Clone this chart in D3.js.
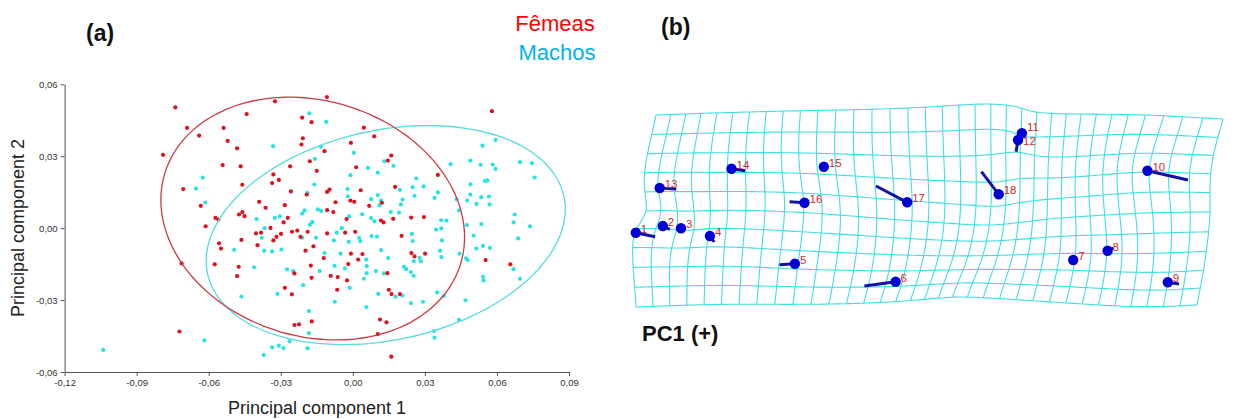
<!DOCTYPE html>
<html>
<head>
<meta charset="utf-8">
<script src="https://cdn.jsdelivr.net/npm/d3@7"></script>
<style>
  body { margin: 0; background: #fff; }
  svg { display: block; }
  text { font-family: "Liberation Sans", Arial, sans-serif; }
</style>
</head>
<body>
<div id="chart-area"></div>
<script>
// ---- (a) PCA scores: [PC1, PC2] ----
const femaleScores = [
  [-0.0739,0.0504],[-0.0324,0.0529],[-0.0108,0.0547],[-0.0442,0.0476],[-0.0690,0.0418],[-0.0640,0.0386],
  [-0.0538,0.0418],[-0.0521,0.0364],[-0.0482,0.0333],[-0.0790,0.0306],[-0.0211,0.0461],[-0.0172,0.0442],
  [-0.0208,0.0375],[-0.0214,0.0349],[-0.0118,0.0321],[-0.0179,0.0279],[-0.0261,0.0258],[-0.0150,0.0239],
  [-0.0542,0.0263],[-0.0467,0.0258],[-0.0331,0.0224],[-0.0308,0.0201],[-0.0336,0.0188],[-0.0460,0.0181],
  [-0.0706,0.0163],[-0.0258,0.0153],[-0.0192,0.0140],[-0.0390,0.0110],[-0.0363,0.0085],[-0.0283,0.0096],
  [-0.0633,0.0093],[-0.0572,0.0043],[-0.0560,0.0036],[-0.0474,0.0057],[-0.0460,0.0067],[-0.0451,0.0050],
  [-0.0271,0.0043],[-0.0288,0.0024],[-0.0613,0.0008],[-0.0107,0.0075],[-0.0343,0.0001],
  [0.0579,0.0488],[0.0046,0.0419],[0.0089,0.0383],[-0.0008,0.0356],[0.0160,0.0303],[0.0146,0.0282],
  [0.0014,0.0254],[0.0354,0.0222],[0.0176,0.0172],[-0.0097,0.0161],[-0.0107,0.0151],[0.0033,0.0158],
  [-0.0072,0.0108],[-0.0010,0.0115],[0.0006,0.0110],[0.0068,0.0093],[-0.0081,0.0067],[-0.0026,0.0038],
  [0.0121,0.0106],[0.0117,0.0032],[0.0128,0.0024],[0.0168,0.0039],[0.0243,0.0044],[0.0296,0.0046],
  [-0.0557,-0.0063],[-0.0549,-0.0085],[-0.0464,-0.0049],[-0.0403,-0.0022],[-0.0382,-0.0019],[-0.0318,-0.0036],
  [-0.0299,-0.0024],[-0.0331,-0.0051],[-0.0397,-0.0071],[-0.0253,-0.0015],[-0.0231,-0.0010],[-0.0218,-0.0036],
  [-0.0188,-0.0015],[-0.0107,-0.0022],[-0.0197,-0.0094],[-0.0164,-0.0076],[-0.0121,-0.0125],[-0.0175,-0.0156],
  [-0.0243,-0.0189],[-0.0172,-0.0207],[-0.0713,-0.0147],[-0.0575,-0.0151],[-0.0475,-0.0161],[-0.0482,-0.0200],
  [-0.0283,-0.0249],[-0.0254,-0.0276],[-0.0722,-0.0431],[-0.0243,-0.0404],[-0.0224,-0.0401],[-0.0171,-0.0389],
  [-0.0032,-0.0019],[0.0010,-0.0015],[0.0203,-0.0032],[-0.0008,-0.0106],[0.0040,-0.0108],[0.0022,-0.0131],
  [-0.0019,-0.0150],[-0.0092,-0.0199],[-0.0063,-0.0204],[-0.0024,-0.0218],[-0.0065,-0.0257],[0.0144,-0.0188],
  [0.0150,-0.0257],[0.0161,-0.0275],[0.0196,-0.0275],[0.0244,-0.0104],[0.0257,-0.0118],[0.0301,-0.0106],
  [0.0553,-0.0133],[0.0656,-0.0151],[0.0113,-0.0381],[0.0140,-0.0393],[0.0104,-0.0442],[0.0160,-0.0536]
];
const maleScores = [
  [-0.0181,0.0479],[-0.0111,0.0443],[-0.0332,0.0342],[-0.0133,0.0339],[-0.0158,0.0289],[-0.0625,0.0211],
  [-0.0653,0.0165],[-0.0614,0.0107],[-0.0160,0.0182],[-0.0189,0.0147],[-0.0201,0.0074],[-0.0211,0.0061],
  [-0.0146,0.0078],[-0.0132,0.0072],[-0.0401,0.0038],[-0.0325,0.0043],[-0.0304,0.0049],[-0.0169,0.0025],
  [-0.0179,0.0014],[-0.0367,0.0000],
  [0.0004,0.0314],[0.0131,0.0279],[0.0169,0.0260],[0.0063,0.0251],[0.0104,0.0232],[-0.0010,0.0221],
  [0.0264,0.0207],[0.0249,0.0171],[0.0294,0.0174],[0.0196,0.0160],[-0.0022,0.0163],[-0.0021,0.0133],
  [0.0076,0.0121],[0.0104,0.0138],[0.0117,0.0115],[0.0111,0.0096],[0.0207,0.0119],[0.0200,0.0099],
  [0.0158,0.0067],[0.0192,0.0065],[0.0257,0.0135],[0.0340,0.0126],[0.0354,0.0149],[0.0407,0.0267],
  [0.0489,0.0282],[0.0532,0.0264],[0.0582,0.0265],[0.0594,0.0247],[0.0540,0.0344],[0.0594,0.0368],
  [0.0696,0.0275],[0.0746,0.0271],[0.0757,0.0211],[0.0490,0.0183],[0.0550,0.0197],[0.0560,0.0199],
  [0.0489,0.0140],[0.0535,0.0129],[0.0567,0.0132],[0.0569,0.0099],[0.0515,0.0101],[0.0476,0.0115],
  [0.0432,0.0121],[0.0442,0.0074],[0.0039,0.0058],[-0.0015,0.0049],[0.0076,0.0042],[0.0090,0.0029],
  [0.0368,0.0033],[0.0390,0.0031],[0.0674,0.0057],[0.0669,0.0024],[0.0738,0.0007],[0.0475,0.0013],
  [0.0535,0.0017],[-0.0046,0.0000],
  [-0.0379,-0.0040],[-0.0494,-0.0090],[-0.0369,-0.0094],[-0.0336,-0.0097],[-0.0297,-0.0089],[-0.0411,-0.0163],
  [-0.0274,-0.0172],[-0.0249,-0.0179],[-0.0138,-0.0179],[-0.0118,-0.0104],[-0.0153,-0.0040],[-0.0211,-0.0040],
  [-0.0207,-0.0238],[-0.0314,-0.0274],[-0.0464,-0.0285],[-0.0183,-0.0346],[-0.0183,-0.0438],[-0.0263,-0.0472],
  [-0.0618,-0.0468],[-0.1039,-0.0508],[-0.0336,-0.0497],[-0.0308,-0.0490],[-0.0289,-0.0500],[-0.0371,-0.0529],
  [-0.0189,-0.0501],
  [-0.0067,-0.0019],[-0.0079,-0.0051],[-0.0017,-0.0057],[0.0026,-0.0040],[0.0031,-0.0054],[0.0078,-0.0033],
  [0.0100,-0.0035],[0.0246,-0.0024],[0.0249,-0.0054],[0.0347,-0.0006],[0.0368,-0.0001],[0.0371,-0.0051],
  [-0.0051,-0.0106],[0.0056,-0.0131],[0.0118,-0.0092],[0.0147,-0.0125],[0.0254,-0.0138],[0.0278,-0.0124],
  [0.0283,-0.0138],[0.0363,-0.0094],[0.0369,-0.0121],[0.0444,-0.0106],[0.0471,-0.0126],[0.0479,-0.0133],
  [0.0503,-0.0031],[0.0514,-0.0085],[0.0542,-0.0074],[0.0571,-0.0082],[0.0688,-0.0043],[0.0669,-0.0171],
  [0.0696,-0.0211],[0.0542,-0.0203],[0.0544,-0.0218],[-0.0076,-0.0157],[-0.0033,-0.0168],[0.0058,-0.0158],
  [0.0057,-0.0188],[0.0046,-0.0211],[0.0096,-0.0179],[0.0129,-0.0189],[0.0213,-0.0161],[0.0222,-0.0171],
  [0.0242,-0.0183],[0.0253,-0.0199],[-0.0013,-0.0249],[-0.0075,-0.0307],[0.0106,-0.0274],[0.0178,-0.0286],
  [0.0206,-0.0281],[0.0242,-0.0313],[0.0292,-0.0307],[0.0351,-0.0268],[0.0379,-0.0283],[0.0469,-0.0301],
  [0.0442,-0.0382],[0.0338,-0.0429],[0.0340,-0.0457],[0.0056,-0.0329]
];
// confidence ellipses: females, males
const ellipseCenters = [[-0.0167, 0.0040], [0.0137, -0.0029]];
const ellipseAxes = [[0.0644, 0.0491], [0.0759, 0.0437]];
const ellipseAngles = [-17.2, 12.35];   // degrees

const xTicks = [-0.12, -0.09, -0.06, -0.03, 0, 0.03, 0.06, 0.09];
const yTicks = [-0.06, -0.03, 0, 0.03, 0.06];

// ---- (b) landmarks, digitizer units ----
const landmarkIds = [1,2,3,4,5,6,7,8,9,10,11,12,13,14,15,16,17,18];
const landmarkPos = [
  [5.8,132.7],[32.8,126.0],[51.0,128.3],[79.9,136.0],[164.9,163.7],[265.6,181.7],
  [443.2,160.0],[477.6,150.7],[537.8,182.3],[517.4,70.7],[391.9,33.3],[388.0,40.0],
  [29.7,88.0],[101.5,68.7],[193.8,66.7],[174.5,102.7],[277.2,102.3],[368.7,94.3]
];
const landmarkVectorEnd = [
  [25.1,136.7],[39.8,129.3],[51.0,128.3],[84.2,142.0],[149.4,164.7],[234.4,186.0],
  [443.2,160.0],[483.4,148.0],[549.0,184.0],[557.9,80.0],[391.9,33.3],[386.1,51.7],
  [46.3,89.0],[115.1,70.7],[193.8,66.7],[159.5,101.7],[246.0,86.0],[351.4,71.7]
];
// deformation grid: 34 x 10 cells, outline points (fraction of grid -> position)
const gridCols = 34, gridRows = 10;
const gridOutlineFrac = [[0,0],[0.64,0],[1,0],[0,0.5],[1,0.5],[0,1],[0.574,1],[1,1]];
const gridOutlinePos = [[26,15],[388,7],[593,19],[16,111],[580,112],[6,207],[330,197],[567,205]];
const warpStrength = 0.45;

const full_width = 1234, full_height = 419;
const svg = d3.select("#chart-area").append("svg")
    .attr("width", full_width).attr("height", full_height);
svg.append("rect").attr("width", full_width).attr("height", full_height).attr("fill", "#fff");

// ================= panel (a) =================
const x = d3.scaleLinear().domain([-0.12, 0.09]).range([64.6, 569]);
const y = d3.scaleLinear().domain([-0.06, 0.06]).range([372, 84.3]);

const ptBR = d3.formatLocale({decimal: ",", thousands: ".", grouping: [3], currency: ["", ""], minus: "-"});
const fmt = ptBR.format(".2f");

const gx = svg.append("g")
    .attr("transform", "translate(0," + y(-0.06) + ")")
    .call(d3.axisBottom(x).tickValues(xTicks).tickFormat(fmt).tickSize(4).tickSizeOuter(0));
const gy = svg.append("g")
    .attr("transform", "translate(" + x(-0.12) + ",0)")
    .call(d3.axisLeft(y).tickValues(yTicks).tickFormat(fmt).tickSize(4).tickSizeOuter(0));
[gx, gy].forEach(g => {
    g.attr("font-family", "Liberation Sans, Arial, sans-serif").attr("font-size", 9.5);
    g.selectAll("path, line").attr("stroke", "#555");
    g.selectAll("text").attr("fill", "#333");
});

const groups = [
    {pts: maleScores, color: "#29e2e2"},
    {pts: femaleScores, color: "#e0101e"}
];
groups.forEach(gp => {
    svg.append("g").selectAll("circle")
        .data(gp.pts)
        .enter().append("circle")
        .attr("cx", d => x(d[0]))
        .attr("cy", d => y(d[1]))
        .attr("r", 2.1)
        .attr("fill", gp.color);
});

const ellipseColors = ["#cc3a44", "#55dcdc"];
const angles = d3.range(0, 361, 3).map(a => a * Math.PI / 180);
const ellipseLine = d3.line().x(d => x(d[0])).y(d => y(d[1])).curve(d3.curveCardinalClosed);
[1, 0].forEach(k => {
    const c = ellipseCenters[k], ax = ellipseAxes[k], th = ellipseAngles[k] * Math.PI / 180;
    const pts = angles.slice(0, -1).map(t => [
        c[0] + ax[0] * Math.cos(t) * Math.cos(th) - ax[1] * Math.sin(t) * Math.sin(th),
        c[1] + ax[0] * Math.cos(t) * Math.sin(th) + ax[1] * Math.sin(t) * Math.cos(th)
    ]);
    svg.append("path").attr("d", ellipseLine(pts))
        .attr("fill", "none").attr("stroke", ellipseColors[k]).attr("stroke-width", 1.3);
});

// labels
svg.append("text").attr("x", 317).attr("y", 414).attr("text-anchor", "middle")
    .attr("font-size", "18px").attr("fill", "#222").text("Principal component 1");
svg.append("text").attr("transform", "translate(24,228) rotate(-90)").attr("text-anchor", "middle")
    .attr("font-size", "18px").attr("fill", "#222").text("Principal component 2");
svg.append("text").attr("x", 86).attr("y", 41).attr("font-size", "23px").attr("font-weight", "bold")
    .attr("fill", "#111").text("(a)");
svg.append("text").attr("x", 555).attr("y", 31).attr("text-anchor", "middle")
    .attr("font-size", "22px").attr("fill", "#ff0000").text("Fêmeas");
svg.append("text").attr("x", 557).attr("y", 60).attr("text-anchor", "middle")
    .attr("font-size", "22px").attr("fill", "#00b0f0").text("Machos");

// ================= panel (b) =================
const xB = d3.scaleLinear().domain([0, 600]).range([630, 1230]);
const yB = d3.scaleLinear().domain([0, 210]).range([100, 310]);

// thin-plate spline
function solve(A, b) {
    const n = b.length;
    for (let i = 0; i < n; i++) {
        let p = i;
        for (let r = i + 1; r < n; r++) if (Math.abs(A[r][i]) > Math.abs(A[p][i])) p = r;
        [A[i], A[p]] = [A[p], A[i]]; [b[i], b[p]] = [b[p], b[i]];
        for (let r = i + 1; r < n; r++) {
            const f = A[r][i] / A[i][i];
            for (let c = i; c < n; c++) A[r][c] -= f * A[i][c];
            b[r] -= f * b[i];
        }
    }
    const s = new Array(n).fill(0);
    for (let i = n - 1; i >= 0; i--) {
        let v = b[i];
        for (let c = i + 1; c < n; c++) v -= A[i][c] * s[c];
        s[i] = v / A[i][i];
    }
    return s;
}
const U = r2 => r2 === 0 ? 0 : r2 * Math.log(r2);
function tps(src, dst) {
    const n = src.length, m = n + 3;
    const A = d3.range(m).map(() => new Array(m).fill(0));
    const bx = new Array(m).fill(0), by = new Array(m).fill(0);
    for (let i = 0; i < n; i++) {
        for (let j = 0; j < n; j++) {
            const dx = src[i][0] - src[j][0], dy = src[i][1] - src[j][1];
            A[i][j] = U(dx * dx + dy * dy);
        }
        A[i][n] = A[n][i] = 1;
        A[i][n + 1] = A[n + 1][i] = src[i][0];
        A[i][n + 2] = A[n + 2][i] = src[i][1];
        bx[i] = dst[i][0]; by[i] = dst[i][1];
    }
    const cx = solve(A.map(r => r.slice()), bx), cy = solve(A.map(r => r.slice()), by);
    return p => {
        let fx = cx[n] + cx[n + 1] * p[0] + cx[n + 2] * p[1];
        let fy = cy[n] + cy[n + 1] * p[0] + cy[n + 2] * p[1];
        for (let i = 0; i < n; i++) {
            const dx = p[0] - src[i][0], dy = p[1] - src[i][1], u = U(dx * dx + dy * dy);
            fx += cx[i] * u; fy += cy[i] * u;
        }
        return [fx, fy];
    };
}

// regular grid frame (fraction space) -> affine from outline corners
const TL = gridOutlinePos[0], TR = gridOutlinePos[2], BL = gridOutlinePos[5];
const ex = [TR[0] - TL[0], TR[1] - TL[1]], ey = [BL[0] - TL[0], BL[1] - TL[1]];
const det = ex[0] * ey[1] - ex[1] * ey[0];
const toFrac = p => {
    const dx = p[0] - TL[0], dy = p[1] - TL[1];
    return [(dx * ey[1] - dy * ey[0]) / det, (ex[0] * dy - ex[1] * dx) / det];
};
const S = 5; // work in fraction*S for conditioning
const src = [], dst = [];
gridOutlineFrac.forEach((f, i) => { src.push([f[0] * S, f[1] * 2]); dst.push([gridOutlinePos[i][0] / 100, gridOutlinePos[i][1] / 100]); });
landmarkPos.forEach((p, i) => {
    const e = landmarkVectorEnd[i];
    const f = toFrac([p[0] + warpStrength * (e[0] - p[0]), p[1] + warpStrength * (e[1] - p[1])]);
    src.push([f[0] * S, f[1] * 2]);
    dst.push([p[0] / 100, p[1] / 100]);
});
const warp = tps(src, dst);
const warpPt = (fu, fv) => { const q = warp([fu * S, fv * 2]); return [q[0] * 100, q[1] * 100]; };

const gridLine = d3.line().x(d => xB(d[0])).y(d => yB(d[1]));
const gridG = svg.append("g").attr("fill", "none").attr("stroke", "#3fe0e0").attr("stroke-width", 1.1);
d3.range(gridRows + 1).forEach(j => {
    const pts = d3.range(0, 1.0001, 1 / 170).map(fu => warpPt(fu, j / gridRows));
    gridG.append("path").attr("d", gridLine(pts));
});
d3.range(gridCols + 1).forEach(i => {
    const pts = d3.range(0, 1.0001, 1 / 60).map(fv => warpPt(i / gridCols, fv));
    gridG.append("path").attr("d", gridLine(pts));
});

// lollipops
svg.append("g").selectAll("line")
    .data(landmarkPos)
    .enter().append("line")
    .attr("x1", d => xB(d[0])).attr("y1", d => yB(d[1]))
    .attr("x2", (d, i) => xB(landmarkVectorEnd[i][0]))
    .attr("y2", (d, i) => yB(landmarkVectorEnd[i][1]))
    .attr("stroke", "#1212a8").attr("stroke-width", 3);
svg.append("g").selectAll("circle")
    .data(landmarkPos)
    .enter().append("circle")
    .attr("cx", d => xB(d[0])).attr("cy", d => yB(d[1]))
    .attr("r", 5.2).attr("fill", "#0000d6");
// 11 and 12 sit on top of each other: nudge their numbers apart
const labelNudge = id => id === 11 ? -2.5 : id === 12 ? 5 : 0;
svg.append("g").selectAll("text")
    .data(landmarkPos)
    .enter().append("text")
    .attr("x", d => xB(d[0]) + 5)
    .attr("y", (d, i) => yB(d[1]) + labelNudge(landmarkIds[i]))
    .attr("font-size", "11.5px").attr("fill", "#d22a2a")
    .text((d, i) => landmarkIds[i]);

svg.append("text").attr("x", 661).attr("y", 35).attr("font-size", "23px").attr("font-weight", "bold")
    .attr("fill", "#111").text("(b)");
svg.append("text").attr("x", 642).attr("y", 341).attr("font-size", "22px").attr("font-weight", "bold")
    .attr("fill", "#111").text("PC1 (+)");
</script>
</body>
</html>
